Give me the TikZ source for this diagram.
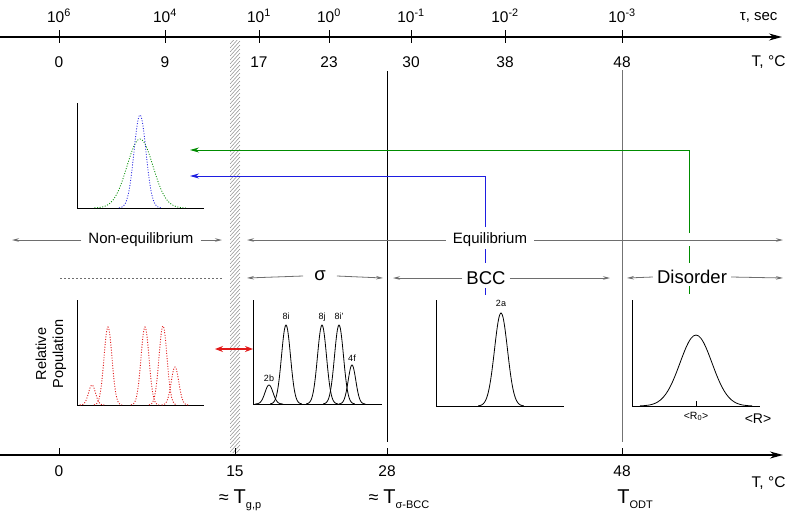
\documentclass[tikz,border=0pt]{standalone}
\usepackage{fontspec}
\setmainfont{Liberation Sans}
\usetikzlibrary{arrows.meta}

\definecolor{phasegray}{RGB}{110,110,110}
\definecolor{eqgreen}{RGB}{0,140,0}
\definecolor{eqblue}{RGB}{30,30,225}
\definecolor{neqred}{RGB}{225,25,25}

\newcommand{\gausspeak}[4]{plot[smooth,samples=45,domain=-3.5:3.5] ({#1+#3*\x},{#4-#2*exp(-\x*\x/2)})}
\newcommand{\sublbl}[1]{\raisebox{-5pt}{\fontsize{11}{12}\selectfont #1}}

\tikzset{
  axisline/.style={line width=1.3pt,-{Stealth[length=13pt,width=7pt]}},
  tickline/.style={line width=1pt},
  ticklbl/.style={font=\fontsize{15.5}{17}\selectfont,anchor=base},
  phaselbl/.style={font=\fontsize{15}{17}\selectfont,inner ysep=0pt,inner xsep=7pt},
  phasebig/.style={phaselbl,font=\fontsize{18.5}{20}\selectfont,inner xsep=4pt},
  phasearrow/.style={phasegray,line width=0.8pt,-{Stealth[length=7pt,width=3.5pt]}},
  feedback/.style={line width=0.9pt,-{Stealth[length=9pt,width=5pt]}},
  plotframe/.style={line width=0.9pt},
  sitelbl/.style={font=\fontsize{9}{10}\selectfont,anchor=base},
  hatchline/.style={black!45,line width=0.5pt},
}

\begin{document}
\begin{tikzpicture}[x=1pt,y=-1pt]
\useasboundingbox (0,0) rectangle (796,517);

% hatched glass barrier
\begin{scope}
  \clip (230,40) rectangle (240,452);
  \foreach \yy in {40,44,...,468}
    \draw[hatchline] (230,\yy) -- (240,\yy-11);
\end{scope}

% top axis: relaxation time and temperature
\draw[axisline] (0,37) -- (782,37);
\foreach \xx/\ex/\tc in {59/6/0, 165/4/9, 259/1/17, 329/0/23, 411/-1/30, 505/-2/38, 622/-3/48}{
  \draw[tickline] (\xx,30) -- (\xx,43);
  \node[ticklbl] at (\xx,22) {10\textsuperscript{\ex}};
  \node[ticklbl] at (\xx,67) {\tc};
}
\node[ticklbl,anchor=base east,font=\fontsize{15}{17}\selectfont] at (781,20) {τ, sec};
\node[ticklbl,anchor=base east] at (789,66) {T, °C};

% phase boundaries
\draw[line width=0.8pt] (387,71) -- (387,442);
\draw[line width=0.8pt,black!55] (622,70) -- (622,442);

% bottom axis
\draw[axisline] (0,455) -- (783,455);
\foreach \xx/\tc in {59/0, 235/15, 387/28, 622/48}{
  \draw[tickline] (\xx,448) -- (\xx,455);
  \node[ticklbl] at (\xx,476) {\tc};
}
\node[ticklbl,anchor=base east] at (789,487) {T, °C};
\node[anchor=base] (tgp) at (240,503) {\fontsize{18}{20}\selectfont≈ \fontsize{20}{22}\selectfont T\sublbl{g,p}};
\node[anchor=base] (tsb) at (399,503) {\fontsize{18}{20}\selectfont≈ \fontsize{20}{22}\selectfont T\sublbl{σ-BCC}};
\node[anchor=base] (todt) at (635,503) {\fontsize{20}{22}\selectfont T\sublbl{ODT}};

% upper inset: quenched distributions
\draw[plotframe] (77,103) -- (77,208) -- (204,208);
\draw[eqgreen,line width=0.8pt,dash pattern=on 1pt off 1.6pt] \gausspeak{140}{69}{13}{208};
\draw[eqblue,line width=0.8pt,dash pattern=on 1pt off 1.6pt] \gausspeak{140}{93}{6}{208};

% quench arrows
\coordinate (gdrop) at (689,233);
\coordinate (gbend) at (689,150);
\coordinate (gtip) at (190,150);
\draw[feedback,eqgreen] (gdrop) -- (gbend) -- (gtip);
\draw[eqgreen,line width=0.9pt] (689,246) -- (689,263) (689,286) -- (689,294);
\coordinate (bdrop) at (485,227);
\coordinate (bbend) at (485,176);
\coordinate (btip) at (190,176);
\draw[feedback,eqblue] (bdrop) -- (bbend) -- (btip);
\draw[eqblue,line width=0.9pt] (485,249) -- (485,263) (485,288) -- (485,295);

% phase regions
\node[phaselbl] (neq) at (141,240) {Non-equilibrium};
\coordinate (neqL) at (12,240);
\coordinate (neqR) at (222,240);
\draw[phasearrow] (neq.west) -- (neqL);
\draw[phasearrow] (neq.east) -- (neqR);
\node[phaselbl] (eq) at (490,240) {Equilibrium};
\coordinate (eqL) at (247,240);
\coordinate (eqR) at (783,240);
\draw[phasearrow] (eq.west) -- (eqL);
\draw[phasearrow] (eq.east) -- (eqR);

\draw[phasegray,line width=0.8pt,dash pattern=on 2pt off 2pt] (60,278) -- (222,278);
\node[phasebig,inner xsep=11pt] (sig) at (320,276) {σ};
\coordinate (sigL) at (247,278);
\coordinate (sigR) at (383,278);
\draw[phasearrow] (sig.west) -- (sigL);
\draw[phasearrow] (sig.east) -- (sigR);
\node[phasebig] (bcc) at (486,278) {BCC};
\coordinate (bccL) at (393,278);
\coordinate (bccR) at (610,278);
\draw[phasearrow] (bcc.west) -- (bccL);
\draw[phasearrow] (bcc.east) -- (bccR);
\node[phasebig] (dis) at (692,277) {Disorder};
\coordinate (disL) at (627,278);
\coordinate (disR) at (783,278);
\draw[phasearrow] (dis.west) -- (disL);
\draw[phasearrow] (dis.east) -- (disR);

% lower insets
\node[rotate=90,align=center,font=\fontsize{14.5}{17}\selectfont] (relpop) at (51,354) {Relative\\Population};
\draw[plotframe] (77,300) -- (77,405) -- (204,405);
\foreach \c/\h/\s in {92/20/3.5, 108/78/4, 145/78/4, 163/79/4, 175/38/3.8}
  \draw[neqred,line width=0.9pt,dash pattern=on 1pt off 1.6pt] \gausspeak{\c}{\h}{\s}{405};

\coordinate (glassL) at (215,349);
\coordinate (glassR) at (253,349);
\draw[neqred,line width=1.2pt,{Stealth[length=8pt,width=6pt]}-{Stealth[length=8pt,width=6pt]}] (glassL) -- (glassR);

\draw[plotframe] (253,300) -- (253,404) -- (382,404);
\foreach \c/\h/\s/\lbl/\ly in {269/19/4/2b/381, 286/79/4.5/8i/319, 322/79/4.5/8j/319, 339/79/4.5/8i'/319, 352/39/3.8/4f/361}{
  \draw[line width=0.8pt] \gausspeak{\c}{\h}{\s}{404};
  \node[sitelbl] at (\c,\ly) {\lbl};
}

\draw[plotframe] (436,300) -- (436,406) -- (564,406);
\draw[line width=0.8pt] \gausspeak{501}{93}{6.5}{406};
\node[sitelbl] at (501,306) {2a};

\draw[plotframe] (632,300) -- (632,406) -- (760,406);
\draw[line width=0.8pt] \gausspeak{696}{71}{16}{406};
\draw[line width=0.6pt] (696,401) -- (696,406);
\node[font=\fontsize{10.5}{12}\selectfont,anchor=base] (rzero) at (696,419) {<R\textsubscript{0}>};
\node[font=\fontsize{14}{16}\selectfont,anchor=base] (rmean) at (758,423) {<R>};
\end{tikzpicture}
\end{document}
